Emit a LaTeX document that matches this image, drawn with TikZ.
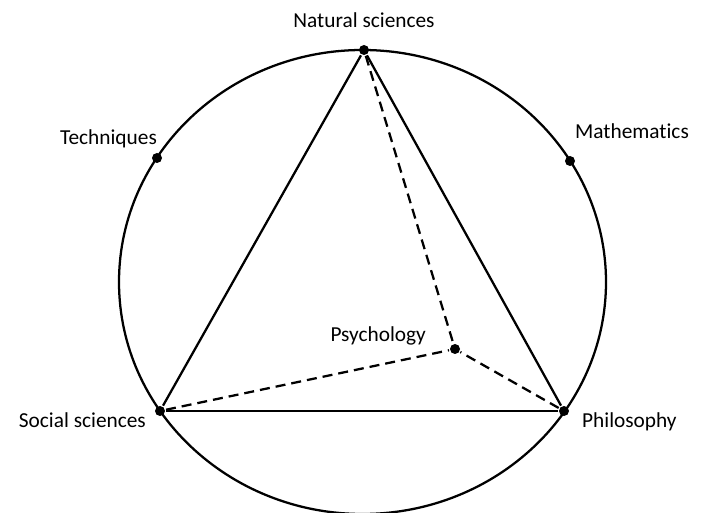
\documentclass[tikz,border=0pt]{standalone}
\usepackage{fontspec}
\setmainfont[Ligatures=NoCommon]{Carlito}

\begin{document}
\begin{tikzpicture}[x=0.75pt, y=-0.75pt, line width=1.7pt,
    font=\fontsize{16}{19}\selectfont,
    spot/.style={circle, fill, inner sep=0pt, minimum size=7.5pt},
    txt/.style={inner sep=0pt},
    hidden/.style={dash pattern=on 7.5pt off 4.5pt}]
    \useasboundingbox (0,0) rectangle (707,513);
    \draw (362.5,282) ellipse [x radius=243.5, y radius=232];
    % points on the circle
    \node (ns) [spot] at (364,50) {};
    \node (tq) [spot] at (157,158) {};
    \node (ma) [spot] at (570,161) {};
    \node (ss) [spot] at (160,411) {};
    \node (ph) [spot] at (564,411) {};
    \node (psy) [spot] at (455,349) {};
    % labels
    \node (nsl) [txt, anchor=base] at (364,28) {Natural sciences};
    \node (tql) [txt, anchor=base east] at (158,145) {Techniques};
    \node (mal) [txt, anchor=base west] at (574,139) {Mathematics};
    \node (ssl) [txt, anchor=base east] at (147,427) {Social sciences};
    \node (phl) [txt, anchor=base west] at (581,427) {Philosophy};
    \node (psl) [txt, anchor=base east] at (427,342) {Psychology};
    \path
    (ns) edge (ss)
    (ns) edge (ph)
    (ss) edge (ph)
    (ns) edge[hidden] (psy)
    (ss) edge[hidden] (psy)
    (ph) edge[hidden] (psy)
    ;
\end{tikzpicture}
\end{document}
